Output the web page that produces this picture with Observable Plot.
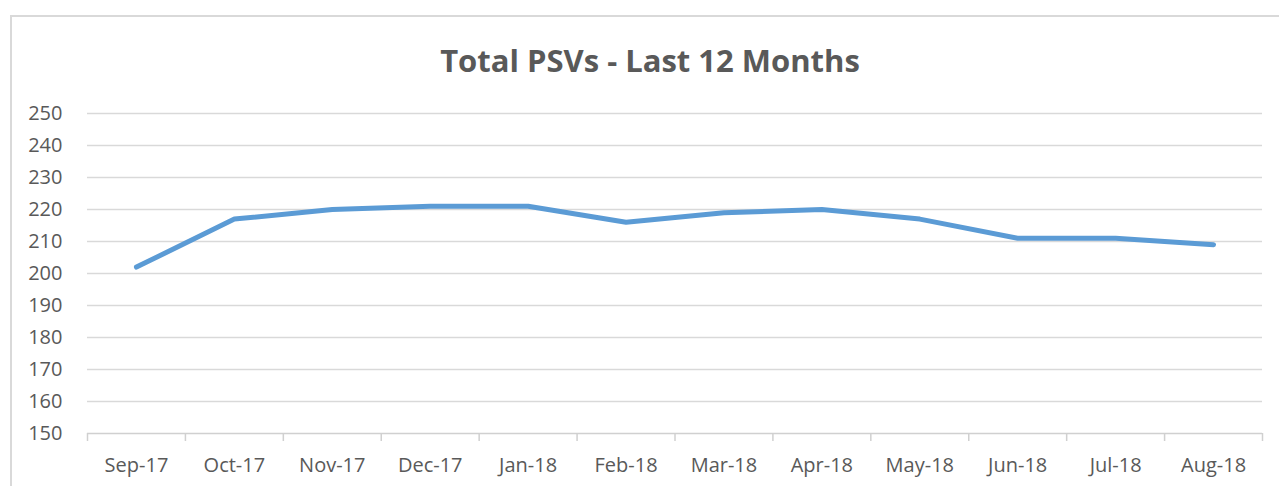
<!DOCTYPE html>
<html>
<head>
<meta charset="utf-8">
<script src="https://cdn.jsdelivr.net/npm/d3@7"></script>
<script src="https://cdn.jsdelivr.net/npm/@observablehq/plot@0.6"></script>
<style>
  html, body { margin: 0; padding: 0; background: #fff; overflow: hidden; }
  #frame { position: absolute; left: 10px; top: 15px; width: 1300px; height: 520px; border: 2px solid #d9d9d9; box-sizing: border-box; }
  #title { position: absolute; left: 10px; top: 37px; width: 1280px; text-align: center; font-family: "Open Sans", sans-serif; font-weight: bold; font-size: 31px; color: #595959; line-height: 46px; }
  #chart { position: absolute; left: 0; top: 95px; }
</style>
</head>
<body>
<div id="frame"></div>
<div id="title">Total PSVs - Last 12 Months</div>
<div id="chart"></div>
<script>
const months = ["Sep-17","Oct-17","Nov-17","Dec-17","Jan-18","Feb-18","Mar-18","Apr-18","May-18","Jun-18","Jul-18","Aug-18"];
const values = [202, 217, 220, 221, 221, 216, 219, 220, 217, 211, 211, 209];
const yTicks = [150,160,170,180,190,200,210,220,230,240,250];

const data = months.map((m, i) => ({month: m, pos: i + 0.5, value: values[i]}));
const boundaries = d3.range(months.length + 1);

const plot = Plot.plot({
  width: 1279,
  height: 391,
  marginLeft: 87,
  marginRight: 17,
  marginTop: 18,
  marginBottom: 53,
  style: {fontFamily: "'Open Sans', sans-serif", fontSize: "20px", color: "#595959", background: "transparent", overflow: "visible"},
  x: {domain: [0, months.length], label: null},
  y: {domain: [150, 250], label: null},
  marks: [
    Plot.ruleY(yTicks.filter(t => t > 150), {y: d => d, stroke: "#d9d9d9", strokeWidth: 1.5}),
    Plot.ruleY([150], {stroke: "#d0d0d0", strokeWidth: 1.5}),
    Plot.axisX({ticks: boundaries, tickFormat: () => "", tickSize: 8, stroke: "#d0d0d0", strokeWidth: 1.5, label: null}),
    Plot.axisX({ticks: data.map(d => d.pos), tickFormat: (d) => months[Math.floor(d)], tickSize: 0, tickPadding: 24, label: null, fill: "#595959"}),
    Plot.axisY({ticks: yTicks, tickSize: 0, tickPadding: 25, label: null, fill: "#595959"}),
    Plot.line(data, {x: "pos", y: "value", stroke: "#5b9bd5", strokeWidth: 5, strokeLinecap: "round", strokeLinejoin: "round"})
  ]
});
document.getElementById("chart").appendChild(plot);
</script>
</body>
</html>
